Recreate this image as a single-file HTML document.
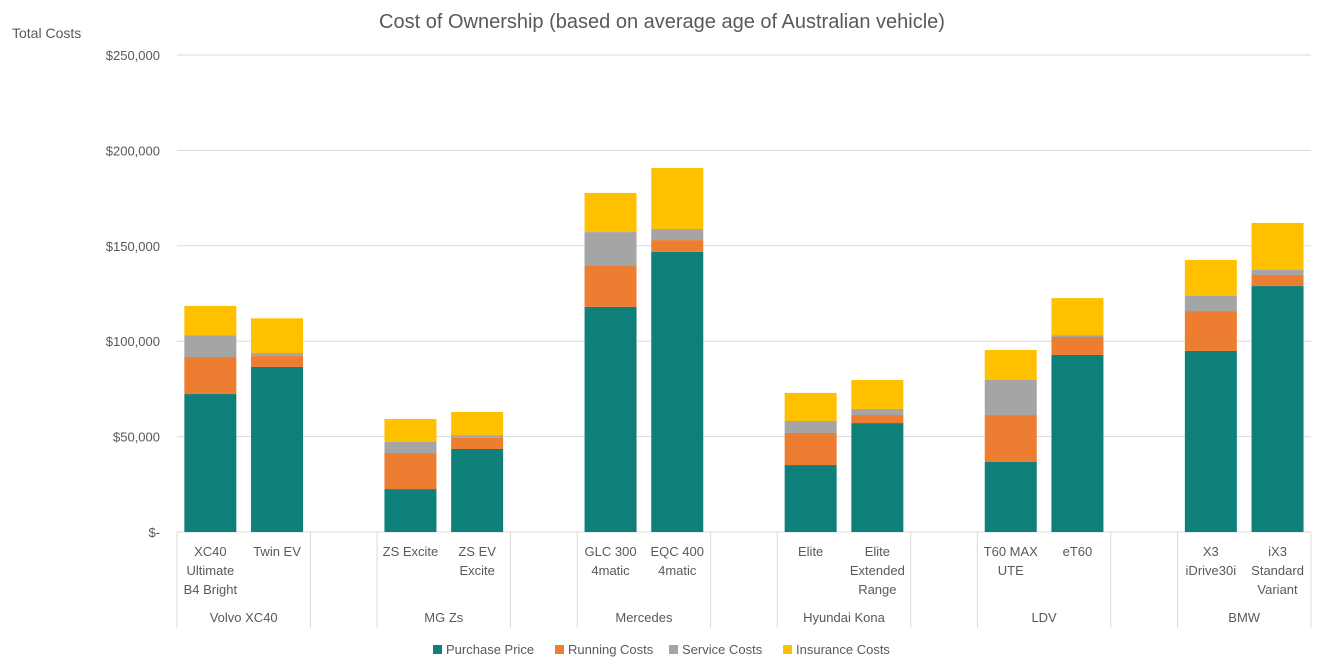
<!DOCTYPE html>
<html><head><meta charset="utf-8"><style>
body{margin:0;background:#fff;font-family:"Liberation Sans",Arial,sans-serif}
svg text{font-family:"Liberation Sans",Arial,sans-serif;fill:#595959}
</style></head><body>
<svg id="chart" width="1327" height="661">
<text x="662" y="28" font-size="20" text-anchor="middle">Cost of Ownership (based on average age of Australian vehicle)</text>
<text x="12" y="38" font-size="14">Total Costs</text>
<g id="grid"></g><g id="bars"></g><g id="xaxis"></g>
<g id="legend"></g>
</svg>
<script>
const groups=["Volvo XC40","MG Zs","Mercedes","Hyundai Kona","LDV","BMW"];
const models=[["XC40","Ultimate","B4 Bright"],["Twin EV"],["ZS Excite"],["ZS EV","Excite"],["GLC 300","4matic"],["EQC 400","4matic"],["Elite"],["Elite","Extended","Range"],["T60 MAX","UTE"],["eT60"],["X3","iDrive30i"],["iX3","Standard","Variant"]];
const purchase=[72.3,86.5,22.5,43.5,118,146.8,35.1,57.1,36.7,92.8,94.9,128.9];
const running=[19.4,5.7,18.9,5.8,21.4,6.2,16.8,4.2,24.6,9.4,20.9,5.8];
const service=[11.3,1.6,5.8,1.5,17.8,5.8,6.3,3.2,18.4,1.0,7.9,2.6];
const insurance=[15.5,18.2,12,12.1,20.5,32,14.7,15.2,15.7,19.4,18.9,24.7];
const ticks=[0,50,100,150,200,250];
const tickLabels=["$-","$50,000","$100,000","$150,000","$200,000","$250,000"];
const seriesNames=["Purchase Price","Running Costs","Service Costs","Insurance Costs"];
const colors=["#0f7f7a","#ed7d31","#a5a5a5","#ffc000"];
const NS="http://www.w3.org/2000/svg";
const x0=177,slot=66.7,y0=532,ppk=(532-55)/250,bw=52;
const y=v=>y0-v*ppk;
const slotOf=i=>Math.floor(i/2)*3+(i%2);
function mk(p,t,a,txt){const e=document.createElementNS(NS,t);for(const k in a)e.setAttribute(k,a[k]);if(txt!==undefined)e.textContent=txt;document.getElementById(p).appendChild(e);return e;}
ticks.forEach((t,i)=>{
 const l=mk("grid","line",{x1:x0,x2:1311,y1:y(t),y2:y(t),stroke:"#d9d9d9","stroke-width":1});
 
 
 const tx=mk("grid","text",{x:160,y:y(t)+5,"font-size":13,"text-anchor":"end"},tickLabels[i]);
 
 
});
const series=[purchase,running,service,insurance];
purchase.forEach((_,i)=>{
 const cx=x0+slot*(slotOf(i)+0.5);let base=0;
 series.forEach((s,k)=>{
  const r=mk("bars","rect",{x:cx-bw/2,y:y(base+s[i]),width:bw,height:s[i]*ppk,fill:colors[k]});
  
  
  base+=s[i];
 });
 models[i].forEach((ln,j)=>{
  const t=mk("xaxis","text",{x:cx,y:556+j*19,"font-size":13,"text-anchor":"middle"},ln);
  
  
 });
});
groups.forEach((g,gi)=>{
 const a=x0+slot*gi*3,b=a+slot*2;
 [a,b].forEach(xx=>{const l=mk("xaxis","line",{x1:xx,x2:xx,y1:532,y2:628,stroke:"#d9d9d9"});
  
  });
 if(gi<5){const l=mk("xaxis","line",{x1:b,x2:a+slot*3,y1:532,y2:532,stroke:"#d9d9d9"});}
 const t=mk("xaxis","text",{x:(a+b)/2,y:622,"font-size":13,"text-anchor":"middle"},g);
 
 
});
const lx=[433,555,669,783];
seriesNames.forEach((n,k)=>{
 const r=mk("legend","rect",{x:lx[k],y:645,width:9,height:9,fill:colors[k]});
 
 
 const t=mk("legend","text",{x:lx[k]+13,y:654,"font-size":13},n);
 
 
});
</script>
</body></html>
